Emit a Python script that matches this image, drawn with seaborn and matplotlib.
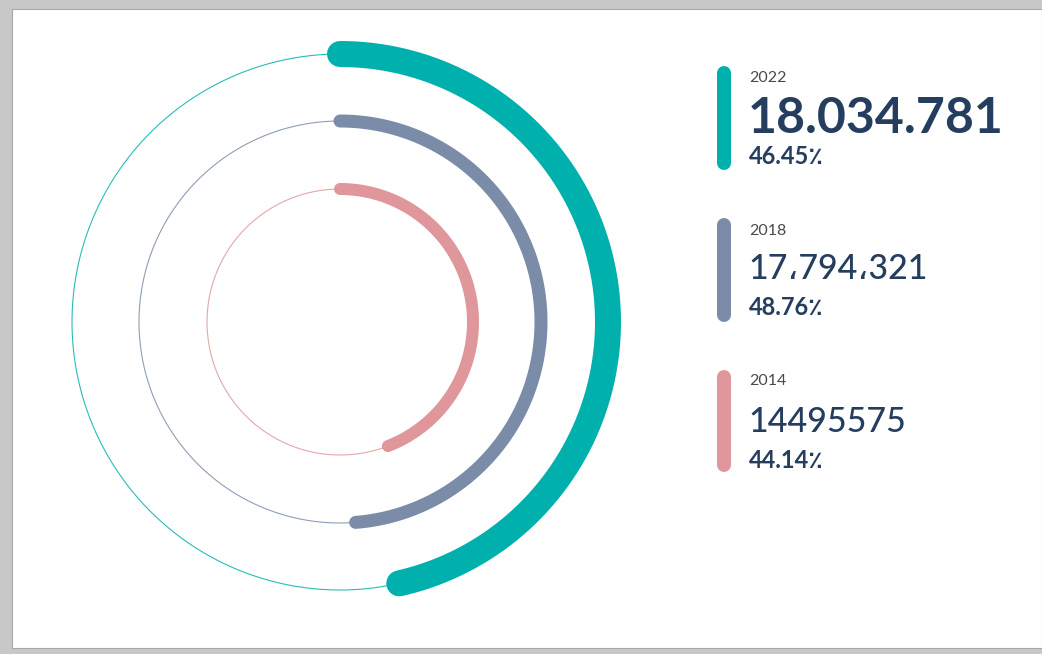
import numpy as np
import pandas as pd
import matplotlib
matplotlib.use("Agg")
import matplotlib.pyplot as plt
from matplotlib.patches import Rectangle
import seaborn as sns

# ---- data ----
years = ["2022", "2018", "2014"]
values_text = ["18.034.781", "17،794،321", "14495575"]
percents = [46.45, 48.76, 44.14]
percent_labels = ["46.45٪", "48.76٪", "44.14٪"]
colors = ["#00B0AD", "#7A8CA8", "#DF979B"]

sns.set_theme(style="white")
plt.rcParams["font.family"] = ["Lato", "DejaVu Sans"]

W, H = 1042, 654
fig = plt.figure(figsize=(W / 100, H / 100), dpi=100, facecolor="#c8c8c8")

# overlay axes in pixel coordinates (card + legend)
ov = fig.add_axes([0, 0, 1, 1], zorder=0)
ov.set_xlim(0, W)
ov.set_ylim(H, 0)
ov.axis("off")
ov.add_patch(Rectangle((12, 9), W - 12, 639, facecolor="white",
                       edgecolor="#a8a8a8", lw=0.8, zorder=0))

# polar ring chart
cx, cy, half = 340, 322, 300
pax = fig.add_axes([(cx - half) / W, (H - cy - half) / H, 2 * half / W, 2 * half / H],
                   projection="polar", zorder=1)
pax.patch.set_alpha(0)
pax.set_theta_zero_location("N")
pax.set_theta_direction(-1)
pax.set_ylim(0, half)

radii = [268, 201, 133]
thick_px = [26, 13, 12]
px2pt = 0.72
for r, t, pct, col in zip(radii, thick_px, percents, colors):
    full = np.linspace(0, 2 * np.pi, 400)
    pax.plot(full, np.full_like(full, r), color=col, lw=1.1 * px2pt, alpha=0.85, zorder=2)
    th = np.linspace(0, 2 * np.pi * pct / 100, 300)
    df = pd.DataFrame({"theta": th, "r": np.full_like(th, r)})
    sns.lineplot(data=df, x="theta", y="r", ax=pax, color=col, lw=t * px2pt,
                 solid_capstyle="round", sort=False, zorder=3)
pax.set_xlabel("")
pax.set_ylabel("")
pax.grid(False)
pax.set_xticks([])
pax.set_yticks([])
pax.spines["polar"].set_visible(False)

# legend blocks
bar_x = 724
bar_spans = [(66, 170), (218, 322), (370, 472)]
year_base = [82, 235, 385]
value_base = [133, 279, 432]
pct_base = [164, 315, 468]
value_sizes = [36, 24.5, 24.5]
value_weights = ["bold", "medium", "medium"]
navy = "#253D5E"
tx = 749
for i in range(3):
    y0, y1 = bar_spans[i]
    w = 14
    ov.plot([bar_x, bar_x], [y0 + w / 2, y1 - w / 2], color=colors[i],
            lw=w * px2pt, solid_capstyle="round")
    ov.text(tx, year_base[i], years[i], fontsize=11.5, color="#4a4a4a",
            va="baseline", ha="left")
    ov.text(tx - 1, value_base[i], values_text[i], fontsize=value_sizes[i],
            color=navy, va="baseline", ha="left", fontweight=value_weights[i])
    ov.text(tx, pct_base[i], percent_labels[i], fontsize=17, color=navy,
            va="baseline", ha="left", fontweight="bold")

fig.savefig("out.png", dpi=100, facecolor=fig.get_facecolor())
